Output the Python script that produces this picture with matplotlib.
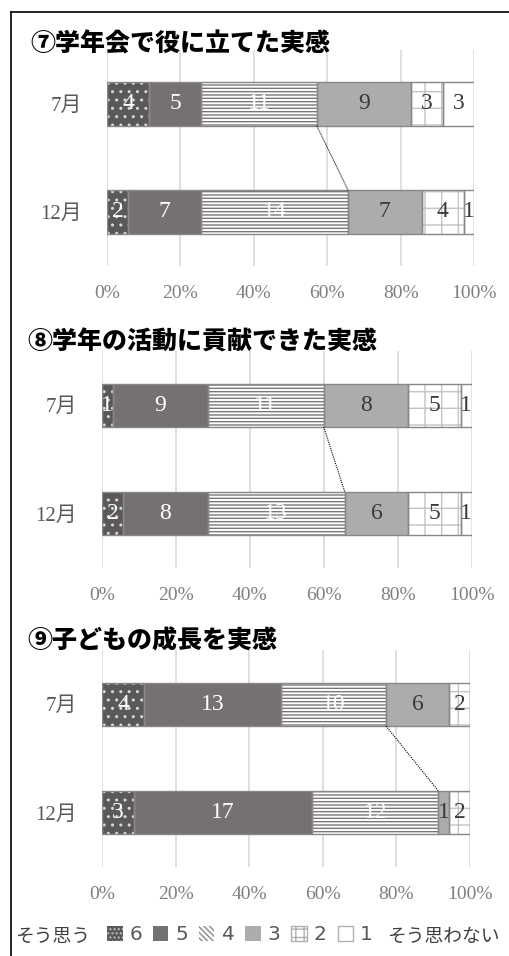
import matplotlib
matplotlib.use("Agg")
import matplotlib.pyplot as plt
import numpy as np
from matplotlib.patches import Patch
from matplotlib.lines import Line2D

plt.rcParams['hatch.linewidth'] = 1.0

# ---------------- data ----------------
periods = ['7月', '12月']
categories = ['6', '5', '4', '3', '2', '1']
titles = ['⑦学年会で役に立てた実感', '⑧学年の活動に貢献できた実感', '⑨子どもの成長を実感']
q7_jul = [4, 5, 11, 9, 3, 3]
q7_dec = [2, 7, 14, 7, 4, 1]
q8_jul = [1, 9, 11, 8, 5, 1]
q8_dec = [2, 8, 13, 6, 5, 1]
q9_jul = [4, 13, 10, 6, 2, 0]
q9_dec = [3, 17, 12, 1, 2, 0]
tick_values = [0, 0.2, 0.4, 0.6, 0.8, 1.0]
tick_labels = ['0%', '20%', '40%', '60%', '80%', '100%']
legend_left = 'そう思う'
legend_right = 'そう思わない'

panels = [(q7_jul, q7_dec), (q8_jul, q8_dec), (q9_jul, q9_dec)]

# ---------------- styles ----------------
face = ['#5b5858', '#767171', '#ffffff', '#aeabab', '#ffffff', '#ffffff']
hatch = ['..', None, '-----', None, '+', None]
hatch_col = ['#d8d8d8', None, '#7a7777', None, '#c4c4c4', None]
label_col = ['white', 'white', 'white', '#3a3a3a', '#3a3a3a', '#3a3a3a']
edge_col = '#8a8787'
serif = ['Liberation Serif', 'Noto Sans CJK JP']
cjk = ['Noto Sans CJK JP', 'DejaVu Sans']

W, H = 509, 956
fig = plt.figure(figsize=(W / 100, H / 100), dpi=100)

# panel geometry in pixels: left, right, top, bottom, title x, title y
geo = [
    (107, 474, 50, 266, 30, 43),
    (102, 471.5, 351, 568, 27, 342),
    (102, 470, 650, 867, 27, 640),
]

bar_h = 0.4
for (jul, dec), title, (l, r, t, b, tx, ty) in zip(panels, titles, geo):
    ax = fig.add_axes([l / W, 1 - b / H, (r - l) / W, (b - t) / H])
    data = np.array([jul, dec], dtype=float)
    tot = data.sum(axis=1, keepdims=True)
    pct = data / tot
    ypos = np.arange(len(periods))
    left = np.zeros(len(periods))
    for k in range(len(categories)):
        w = pct[:, k]
        ax.barh(ypos, w, left=left, height=bar_h, color=face[k], lw=0, zorder=2)
        if hatch[k]:
            ax.barh(ypos, w, left=left, height=bar_h, color='none',
                    edgecolor=hatch_col[k], hatch=hatch[k], lw=0, zorder=3)
        ax.barh(ypos, w, left=left, height=bar_h, color='none',
                edgecolor=edge_col, lw=1.0, zorder=4)
        for i in range(len(periods)):
            if data[i, k] > 0:
                ax.text(left[i] + w[i] / 2, ypos[i], f'{int(data[i, k])}',
                        ha='center', va='center', color=label_col[k],
                        fontsize=17, family=serif, zorder=5)
        left = left + w
    # series line at boundary after category '4'
    cum = pct[:, :3].sum(axis=1)
    ax.plot(cum, [ypos[0] + bar_h / 2, ypos[1] - bar_h / 2], ls=(0, (1, 1)),
            color='black', lw=0.8, zorder=6)
    ax.set_xlim(0, 1)
    ax.set_ylim(1.5, -0.5)
    ax.set_xticks(tick_values)
    ax.set_xticklabels(tick_labels, family=serif, fontsize=14, color='#7f7f7f')
    ax.set_yticks(ypos)
    ax.set_yticklabels(periods, family=serif, fontsize=15, color='#595959')
    ax.tick_params(axis='x', length=0, pad=14)
    ax.tick_params(axis='y', length=0, pad=18)
    ax.xaxis.grid(True, color='#d9d9d9', lw=1.2, zorder=0)
    ax.set_axisbelow(True)
    for s in ax.spines.values():
        s.set_visible(False)
    fig.text(tx / W, 1 - ty / H, title, family=cjk, fontsize=18,
             fontweight='heavy', ha='left', va='center', color='black')

# legend
handles = [
    Patch(facecolor='#5b5858', edgecolor='#bdbdbd', hatch='....', lw=0),
    Patch(facecolor='#767171', edgecolor='#767171', lw=0),
    Patch(facecolor='#ffffff', edgecolor='#8a8a8a', hatch='\\\\\\\\\\\\', lw=0),
    Patch(facecolor='#aeabab', edgecolor='#aeabab', lw=0),
    Patch(facecolor='#ffffff', edgecolor='#b0b0b0', hatch='++', lw=1),
    Patch(facecolor='#ffffff', edgecolor='#b0b0b0', lw=1),
]
leg = fig.legend(handles, categories, loc='center', ncol=6,
                 bbox_to_anchor=(240 / W, 1 - 935 / H), frameon=False,
                 prop={'family': ['DejaVu Sans'], 'size': 14.5},
                 handlelength=0.75, handleheight=0.75, handletextpad=0.35,
                 columnspacing=0.55, borderpad=0, borderaxespad=0)
for txt in leg.get_texts():
    txt.set_color('#595959')
fig.text(15 / W, 1 - 936 / H, legend_left, family=cjk, fontsize=13.5,
         ha='left', va='center', color='#404040')
fig.text(500 / W, 1 - 936 / H, legend_right, family=cjk, fontsize=13.5,
         ha='right', va='center', color='#404040')

# outer frame (left and top edges)
fig.add_artist(Line2D([11 / W, 11 / W], [0, 1 - 12 / H], color='black', lw=1.2,
                      transform=fig.transFigure))
fig.add_artist(Line2D([11 / W, 1], [1 - 12 / H, 1 - 12 / H], color='black', lw=1.2,
                      transform=fig.transFigure))

fig.savefig('out.png', dpi=100, facecolor='white')
